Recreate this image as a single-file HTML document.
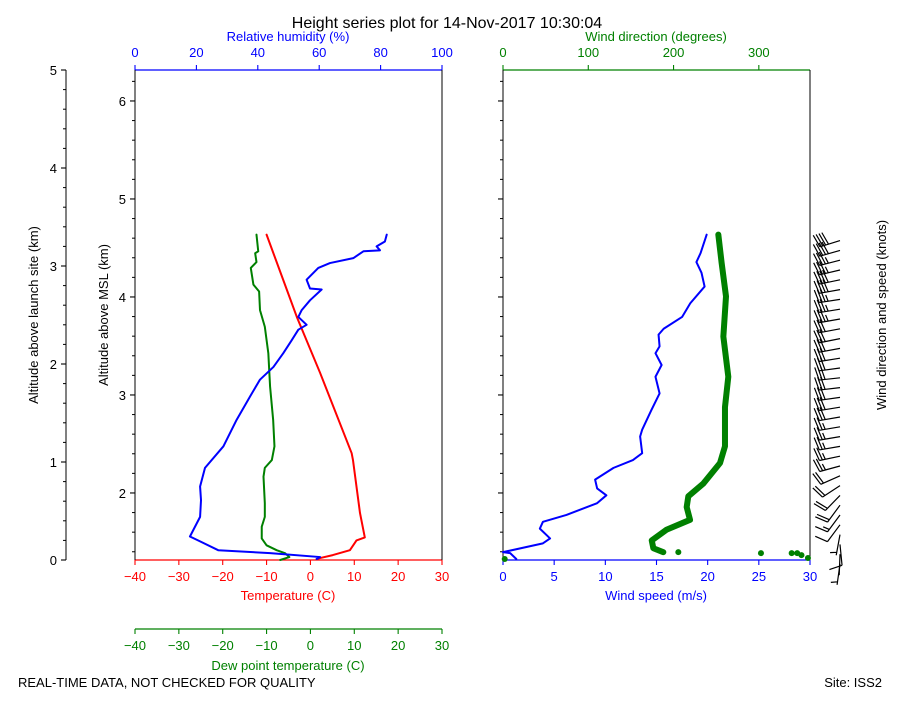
<!DOCTYPE html>
<html><head><meta charset="utf-8"><style>
body{margin:0;background:#fff;}
svg text{font-family:"Liberation Sans",sans-serif;font-size:13px;}
</style></head><body>
<svg id="chart" width="900" height="700" viewBox="0 0 900 700" xmlns="http://www.w3.org/2000/svg">
<rect width="900" height="700" fill="#fff"/>
<text x="447" y="28" text-anchor="middle" style="font-size:16px">Height series plot for 14-Nov-2017 10:30:04</text>
<text x="288" y="41" text-anchor="middle" fill="blue">Relative humidity (%)</text>
<text x="656" y="41" text-anchor="middle" fill="green">Wind direction (degrees)</text>
<text x="288" y="600" text-anchor="middle" fill="red">Temperature (C)</text>
<text x="288" y="670" text-anchor="middle" fill="green">Dew point temperature (C)</text>
<text x="656" y="600" text-anchor="middle" fill="blue">Wind speed (m/s)</text>
<text transform="translate(38,315) rotate(-90)" text-anchor="middle">Altitude above launch site (km)</text>
<text transform="translate(108,315) rotate(-90)" text-anchor="middle">Altitude above MSL (km)</text>
<text transform="translate(886,315) rotate(-90)" text-anchor="middle">Wind direction and speed (knots)</text>
<text x="18" y="687">REAL-TIME DATA, NOT CHECKED FOR QUALITY</text>
<text x="882" y="687" text-anchor="end">Site: ISS2</text>
<g id="g"></g>
</svg>
<script>
const tempH=[0.01,0.02,0.05,0.10,0.20,0.23,0.48,0.75,1.02,1.09,1.91,2.48,2.76,3.32];
const tempV=[1.4,2.2,5.1,9.0,10.5,12.4,11.3,10.5,9.7,9.4,2.2,-3.1,-5.4,-10.0];
const dewH=[0.0,0.03,0.07,0.10,0.15,0.22,0.34,0.44,0.58,0.85,0.94,1.02,1.16,1.43,1.77,2.11,2.38,2.55,2.74,2.81,2.98,3.04,3.13,3.15,3.32];
const dewV=[-6.9,-4.8,-5.8,-7.7,-10.0,-11.1,-11.1,-10.4,-10.4,-10.7,-10.4,-8.8,-8.2,-8.5,-9.2,-9.6,-10.4,-11.5,-11.7,-13.0,-13.6,-12.3,-12.6,-11.9,-12.3];
const rhH=[0.01,0.03,0.07,0.10,0.19,0.24,0.44,0.61,0.75,0.94,1.16,1.43,1.67,1.84,1.97,2.11,2.24,2.35,2.40,2.48,2.55,2.65,2.76,2.77,2.86,2.98,3.03,3.08,3.15,3.16,3.20,3.25,3.32];
const rhV=[59.2,60.3,44.0,27.1,21.2,17.9,21.2,21.5,21.2,22.8,28.8,33.1,37.5,40.7,45.1,48.3,51.0,53.2,55.9,53.2,54.3,57.0,60.8,57.0,55.9,59.7,63.5,71.1,74.4,79.8,78.7,81.4,82.0];
const spdH=[0.01,0.07,0.08,0.17,0.22,0.32,0.39,0.46,0.58,0.66,0.73,0.82,0.94,1.02,1.09,1.26,1.33,1.53,1.70,1.87,1.99,2.11,2.18,2.30,2.36,2.48,2.62,2.79,2.93,3.04,3.13,3.32];
const spdV=[1.3,0.7,0.0,3.9,4.6,3.6,3.9,6.2,9.2,10.1,9.2,9.0,10.8,12.7,13.6,13.4,13.6,14.5,15.3,14.9,15.5,14.9,15.3,15.2,15.7,17.5,18.3,19.7,19.4,18.9,19.3,19.9];
const dirH=[0.08,0.12,0.20,0.31,0.41,0.54,0.65,0.78,0.99,1.16,1.56,1.87,2.28,2.69,3.03,3.32];
const dirV=[188.0,176.3,174.4,192.0,219.3,215.4,217.3,234.9,254.5,260.3,260.3,264.2,258.4,261.5,256.4,252.5];
const dotH=[0.01,0.08,0.07,0.07,0.07,0.05,0.02];
const dotV=[2,205.6,302.5,338.5,345,350,357.6];
const tempTicks=[-40,-30,-20,-10,0,10,20,30];
const rhTicks=[0,20,40,60,80,100];
const spdTicks=[0,5,10,15,20,25,30];
const dirTicks=[0,100,200,300];
const launchTicks=[0,1,2,3,4,5];
const mslTicks=[2,3,4,5,6];

const NS="http://www.w3.org/2000/svg";
const G=document.getElementById('g');
const MSL0=1.316;
const yH=h=>560-h*98;
const xT=t=>135+(t+40)*307/70;
const xRH=r=>135+r*3.07;
const xS=s=>503+s*307/30;
const xD=d=>503+d*307/360;
function el(tag,at,txt){const e=document.createElementNS(NS,tag);for(const k in at)e.setAttribute(k,at[k]);if(txt!==undefined)e.textContent=txt;G.appendChild(e);return e;}
function line(x1,y1,x2,y2,c,w){return el('line',{x1,y1,x2,y2,stroke:c,'stroke-width':w||1});}

let s;
s=line(135,70,442,70,'blue',1.2);
s=line(135,560,442,560,'red',1.2);
s=line(135,70,135,560,'#000',1);
s=line(442,70,442,560,'#000',1);
s=line(135,629,442,629,'green',1.2);
s=line(66,70,66,560,'#000',1);
s=line(503,70,810,70,'green',1.2);
s=line(503,560,810,560,'blue',1.2);
s=line(503,70,503,560,'#000',1);
s=line(810,70,810,560,'#000',1);

function hTick(x,y,len,c,lab,lx,ly,anchor,name){
  const t=line(x,y,x+len[0],y+len[1],c,1.1);
  
  
  if(lab!==null){const tx=el('text',{x:lx,y:ly,'text-anchor':anchor,fill:c},lab);
    
    }
}
tempTicks.forEach(v=>{const x=xT(v);
  hTick(x,560,[0,5],'red',String(v).replace('-','\u2212'),x,581,'middle','temperature-tick');
  hTick(x,629,[0,5],'green',String(v).replace('-','\u2212'),x,650,'middle','dewpoint-tick');});
rhTicks.forEach(v=>{const x=xRH(v);hTick(x,70,[0,-5],'blue',String(v),x,57,'middle','rh-tick');});
spdTicks.forEach(v=>{const x=xS(v);hTick(x,560,[0,5],'blue',String(v),x,581,'middle','speed-tick');});
dirTicks.forEach(v=>{const x=xD(v);hTick(x,70,[0,-5],'green',String(v),x,57,'middle','direction-tick');});
launchTicks.forEach(v=>{const y=yH(v);hTick(66,y,[-5,0],'#000',String(v),57,y+5,'end','launch-altitude');});
for(let h=0;h<=5.001;h+=0.2){if(Math.abs(h-Math.round(h))>0.01){const t=line(66,yH(h),63,yH(h),'#000',1);}}
mslTicks.forEach(v=>{const y=yH(v-MSL0);hTick(135,y,[-5,0],'#000',String(v),126,y+5,'end','msl-altitude');
  hTick(503,y,[-5,0],'#000',null,0,0,'end','right-msl');});
for(let m=1.4;m<=6.3;m+=0.2){if(Math.abs(m-Math.round(m))>0.01){const y=yH(m-MSL0);
  let t=line(135,y,132,y,'#000',1);
  t=line(503,y,500,y,'#000',1);}}

function poly(H,V,fx,c,w,name){
  const p=el('polyline',{points:H.map((h,i)=>fx(V[i])+','+yH(h)).join(' '),fill:'none',stroke:c,'stroke-width':w,'stroke-linejoin':'round','stroke-linecap':'round'});
  
  
}
poly(tempH,tempV,xT,'red',2,'temperature-line');
poly(dewH,dewV,xT,'green',2,'dewpoint-line');
poly(rhH,rhV,xRH,'blue',2,'rh-line');
poly(spdH,spdV,xS,'blue',2,'wind-speed-line');
poly(dirH,dirV,xD,'green',6,'wind-direction-line');
dotH.forEach((h,i)=>{const c=el('circle',{cx:xD(dotV[i]),cy:yH(h),r:3,fill:'green'});
  
  });

function interp(H,V,h){if(h<=H[0])return V[0];for(let i=1;i<H.length;i++){if(h<=H[i]){const f=(h-H[i-1])/(H[i]-H[i-1]);return V[i-1]+f*(V[i]-V[i-1]);}}return V[V.length-1];}
for(let k=0;k<=33;k++){
  const h=k*0.1, y=yH(h)+4, bx=840;
  const kt=Math.round(interp(spdH,spdV,h)*1.944/5)*5;
  const d=interp(dirH,dirV,h)*Math.PI/180;
  const u=[Math.sin(d),-Math.cos(d)], p=[-u[1],u[0]];
  const L=21, tip=[bx+u[0]*L,y+u[1]*L];
  let pts='M'+bx+','+y+'L'+tip[0]+','+tip[1];
  let full=Math.floor(kt/10), half=(kt%10)>=5?1:0, off=0;
  for(let f=0;f<full;f++){const q=[tip[0]-u[0]*off,tip[1]-u[1]*off];
    pts+='M'+q[0]+','+q[1]+'l'+(3*u[0]+13*p[0])+','+(3*u[1]+13*p[1]);off+=3;}
  if(half){if(full===0)off=3;const q=[tip[0]-u[0]*off,tip[1]-u[1]*off];
    pts+='M'+q[0]+','+q[1]+'l'+(1.5*u[0]+6.5*p[0])+','+(1.5*u[1]+6.5*p[1]);}
  const b=el('path',{d:pts,fill:'none',stroke:'#000','stroke-width':1.2});
  
  
}
</script>
</body></html>
